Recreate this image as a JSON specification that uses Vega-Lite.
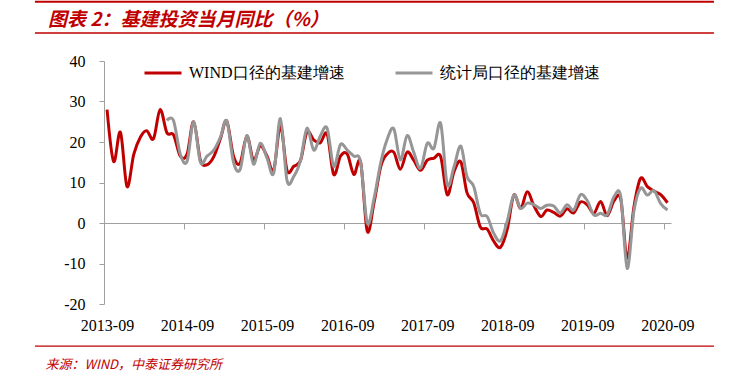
{
  "$schema": "https://vega.github.io/schema/vega-lite/v6.json",
  "width": 567,
  "height": 243,
  "autosize": {"type": "none"},
  "padding": {"left": 104, "top": 61, "right": 67, "bottom": 75},
  "background": "white",
  "config": {"view": {"stroke": null}},
  "title": {
    "text": "图表 2：基建投资当月同比（%）",
    "anchor": "start",
    "frame": "group",
    "dx": -56,
    "offset": -48,
    "baseline": "bottom",
    "font": "Noto Sans CJK SC",
    "fontSize": 19,
    "fontStyle": "italic",
    "fontWeight": "bold",
    "color": "#C00000"
  },
  "layer": [
    {
      "data": {"values": [{}]},
      "mark": {"type": "rule", "color": "#C00000", "strokeWidth": 2},
      "encoding": {
        "x": {"datum": {"year": 2012, "month": 10, "date": 21, "utc": true}, "type": "temporal"},
        "x2": {"datum": {"year": 2021, "month": 4, "date": 15, "utc": true}},
        "y": {"datum": 54.6, "type": "quantitative"}
      }
    },
    {
      "data": {"values": [{}]},
      "mark": {"type": "rule", "color": "#C00000", "strokeWidth": 1.5},
      "encoding": {
        "x": {"datum": {"year": 2012, "month": 10, "date": 21, "utc": true}, "type": "temporal"},
        "x2": {"datum": {"year": 2021, "month": 4, "date": 15, "utc": true}},
        "y": {"datum": 46.9, "type": "quantitative"}
      }
    },
    {
      "data": {"values": [{}]},
      "mark": {"type": "rule", "color": "#C00000", "strokeWidth": 1.2},
      "encoding": {
        "x": {"datum": {"year": 2012, "month": 10, "date": 21, "utc": true}, "type": "temporal"},
        "x2": {"datum": {"year": 2021, "month": 4, "date": 15, "utc": true}},
        "y": {"datum": -30.4, "type": "quantitative"}
      }
    },
    {
      "data": {
        "values": [
          {"d": "2013-09-15", "WIND口径的基建增速": 28, "统计局口径的基建增速": null},
          {"d": "2013-10-15", "WIND口径的基建增速": 15.2, "统计局口径的基建增速": null},
          {"d": "2013-11-15", "WIND口径的基建增速": 22.4, "统计局口径的基建增速": null},
          {"d": "2013-12-15", "WIND口径的基建增速": 9, "统计局口径的基建增速": null},
          {"d": "2014-01-15", "WIND口径的基建增速": 17, "统计局口径的基建增速": null},
          {"d": "2014-02-15", "WIND口径的基建增速": 21.3, "统计局口径的基建增速": null},
          {"d": "2014-03-15", "WIND口径的基建增速": 22.8, "统计局口径的基建增速": null},
          {"d": "2014-04-15", "WIND口径的基建增速": 20.8, "统计局口径的基建增速": null},
          {"d": "2014-05-15", "WIND口径的基建增速": 28, "统计局口径的基建增速": null},
          {"d": "2014-06-15", "WIND口径的基建增速": 22.3, "统计局口径的基建增速": 25.3},
          {"d": "2014-07-15", "WIND口径的基建增速": 21.8, "统计局口径的基建增速": 25.3},
          {"d": "2014-08-15", "WIND口径的基建增速": 16.5, "统计局口径的基建增速": 17},
          {"d": "2014-09-15", "WIND口径的基建增速": 17, "统计局口径的基建增速": 15.2},
          {"d": "2014-10-15", "WIND口径的基建增速": 25, "统计局口径的基建增速": 25},
          {"d": "2014-11-15", "WIND口径的基建增速": 15.5, "统计局口径的基建增速": 15},
          {"d": "2014-12-15", "WIND口径的基建增速": 14.4, "统计局口径的基建增速": 16.5},
          {"d": "2015-01-15", "WIND口径的基建增速": 16.4, "统计局口径的基建增速": 18},
          {"d": "2015-02-15", "WIND口径的基建增速": 21, "统计局口径的基建增速": 21.3},
          {"d": "2015-03-15", "WIND口径的基建增速": 25.2, "统计局口径的基建增速": 25.2},
          {"d": "2015-04-15", "WIND口径的基建增速": 16.5, "统计局口径的基建增速": 15},
          {"d": "2015-05-15", "WIND口径的基建增速": 14.8, "统计局口径的基建增速": 13.2},
          {"d": "2015-06-15", "WIND口径的基建增速": 21.5, "统计局口径的基建增速": 21.6},
          {"d": "2015-07-15", "WIND口径的基建增速": 15.5, "统计局口径的基建增速": 14.5},
          {"d": "2015-08-15", "WIND口径的基建增速": 19, "统计局口径的基建增速": 19.7},
          {"d": "2015-09-15", "WIND口径的基建增速": 16.5, "统计局口径的基建增速": 16},
          {"d": "2015-10-15", "WIND口径的基建增速": 13, "统计局口径的基建增速": 12.3},
          {"d": "2015-11-15", "WIND口径的基建增速": 24, "统计局口径的基建增速": 25.8},
          {"d": "2015-12-15", "WIND口径的基建增速": 13, "统计局口径的基建增速": 10.5},
          {"d": "2016-01-15", "WIND口径的基建增速": 14, "统计局口径的基建增速": 11.5},
          {"d": "2016-02-15", "WIND口径的基建增速": 15.5, "统计局口径的基建增速": 15.5},
          {"d": "2016-03-15", "WIND口径的基建增速": 22.5, "统计局口径的基建增速": 23.4},
          {"d": "2016-04-15", "WIND口径的基建增速": 20.5, "统计局口径的基建增速": 18},
          {"d": "2016-05-15", "WIND口径的基建增速": 19.8, "统计局口径的基建增速": 21.5},
          {"d": "2016-06-15", "WIND口径的基建增速": 22, "统计局口径的基建增速": 23.4},
          {"d": "2016-07-15", "WIND口径的基建增速": 12, "统计局口径的基建增速": 14},
          {"d": "2016-08-15", "WIND口径的基建增速": 16.5, "统计局口径的基建增速": 19.4},
          {"d": "2016-09-15", "WIND口径的基建增速": 17, "统计局口径的基建增速": 18},
          {"d": "2016-10-15", "WIND口径的基建增速": 12, "统计局口径的基建增速": 16.5},
          {"d": "2016-11-15", "WIND口径的基建增速": 15, "统计局口径的基建增速": 15},
          {"d": "2016-12-15", "WIND口径的基建增速": -2, "统计局口径的基建增速": 0},
          {"d": "2017-01-15", "WIND口径的基建增速": 5, "统计局口径的基建增速": 6},
          {"d": "2017-02-15", "WIND口径的基建增速": 14, "统计局口径的基建增速": 15},
          {"d": "2017-03-15", "WIND口径的基建增速": 17, "统计局口径的基建增速": 20.5},
          {"d": "2017-04-15", "WIND口径的基建增速": 17.5, "统计局口径的基建增速": 23.3},
          {"d": "2017-05-15", "WIND口径的基建增速": 13.3, "统计局口径的基建增速": 15.6},
          {"d": "2017-06-15", "WIND口径的基建增速": 17.5, "统计局口径的基建增速": 21.6},
          {"d": "2017-07-15", "WIND口径的基建增速": 15.5, "统计局口径的基建增速": 17.5},
          {"d": "2017-08-15", "WIND口径的基建增速": 13, "统计局口径的基建增速": 13.5},
          {"d": "2017-09-15", "WIND口径的基建增速": 15.5, "统计局口径的基建增速": 19.7},
          {"d": "2017-10-15", "WIND口径的基建增速": 16, "统计局口径的基建增速": 18.4},
          {"d": "2017-11-15", "WIND口径的基建增速": 16.4, "统计局口径的基建增速": 24.6},
          {"d": "2017-12-15", "WIND口径的基建增速": 7, "统计局口径的基建增速": 9.5},
          {"d": "2018-01-15", "WIND口径的基建增速": 12.7, "统计局口径的基建增速": 13.9},
          {"d": "2018-02-15", "WIND口径的基建增速": 15.1, "统计局口径的基建增速": 19},
          {"d": "2018-03-15", "WIND口径的基建增速": 7.5, "统计局口径的基建增速": 11.5},
          {"d": "2018-04-15", "WIND口径的基建增速": 5, "统计局口径的基建增速": 9},
          {"d": "2018-05-15", "WIND口径的基建增速": -1, "统计局口径的基建增速": 2.3},
          {"d": "2018-06-15", "WIND口径的基建增速": -1.5, "统计局口径的基建增速": 1.6},
          {"d": "2018-07-15", "WIND口径的基建增速": -4.5, "统计局口径的基建增速": -2.5},
          {"d": "2018-08-15", "WIND口径的基建增速": -6, "统计局口径的基建增速": -4.4},
          {"d": "2018-09-15", "WIND口径的基建增速": -1.5, "统计局口径的基建增速": 0.5},
          {"d": "2018-10-15", "WIND口径的基建增速": 6.9, "统计局口径的基建增速": 6.9},
          {"d": "2018-11-15", "WIND口径的基建增速": 3.6, "统计局口径的基建增速": 3.6},
          {"d": "2018-12-15", "WIND口径的基建增速": 7.7, "统计局口径的基建增速": 4.9},
          {"d": "2019-01-15", "WIND口径的基建增速": 4.2, "统计局口径的基建增速": 4.5},
          {"d": "2019-02-15", "WIND口径的基建增速": 1.6, "统计局口径的基建增速": 3.6},
          {"d": "2019-03-15", "WIND口径的基建增速": 3.2, "统计局口径的基建增速": 4.4},
          {"d": "2019-04-15", "WIND口径的基建增速": 2.6, "统计局口径的基建增速": 4.2},
          {"d": "2019-05-15", "WIND口径的基建增速": 1.7, "统计局口径的基建增速": 2.5},
          {"d": "2019-06-15", "WIND口径的基建增速": 3.5, "统计局口径的基建增速": 4.5},
          {"d": "2019-07-15", "WIND口径的基建增速": 2.5, "统计局口径的基建增速": 3.2},
          {"d": "2019-08-15", "WIND口径的基建增速": 5.2, "统计局口径的基建增速": 7},
          {"d": "2019-09-15", "WIND口径的基建增速": 4.5, "统计局口径的基建增速": 5.5},
          {"d": "2019-10-15", "WIND口径的基建增速": 2.4, "统计局口径的基建增速": 2},
          {"d": "2019-11-15", "WIND口径的基建增速": 5.3, "统计局口径的基建增速": 2.4},
          {"d": "2019-12-15", "WIND口径的基建增速": 1.8, "统计局口径的基建增速": 2},
          {"d": "2020-01-15", "WIND口径的基建增速": 5.5, "统计局口径的基建增速": 6.5},
          {"d": "2020-02-15", "WIND口径的基建增速": 5.8, "统计局口径的基建增速": 6.5},
          {"d": "2020-03-15", "WIND口径的基建增速": -8.7, "统计局口径的基建增速": -11.2},
          {"d": "2020-04-15", "WIND口径的基建增速": 4, "统计局口径的基建增速": 3},
          {"d": "2020-05-15", "WIND口径的基建增速": 11, "统计局口径的基建增速": 8.6},
          {"d": "2020-06-15", "WIND口径的基建增速": 9, "统计局口径的基建增速": 6.9},
          {"d": "2020-07-15", "WIND口径的基建增速": 7.9, "统计局口径的基建增速": 8},
          {"d": "2020-08-15", "WIND口径的基建增速": 7, "统计局口径的基建增速": 4.8},
          {"d": "2020-09-15", "WIND口径的基建增速": 5, "统计局口径的基建增速": 3.2}
        ]
      },
      "transform": [
        {"fold": ["WIND口径的基建增速", "统计局口径的基建增速"], "as": ["series", "v"]},
        {"filter": "datum.v != null"}
      ],
      "mark": {"type": "line", "strokeWidth": 3, "interpolate": "cardinal"},
      "encoding": {
        "x": {
          "field": "d",
          "type": "temporal",
          "scale": {
            "type": "utc",
            "domain": [
              {"year": 2013, "month": 9, "date": 1, "utc": true},
              {"year": 2020, "month": 10, "date": 1, "utc": true}
            ]
          },
          "axis": {
            "values": [
              {"year": 2013, "month": 9, "date": 1, "utc": true},
              {"year": 2014, "month": 9, "date": 1, "utc": true},
              {"year": 2015, "month": 9, "date": 1, "utc": true},
              {"year": 2016, "month": 9, "date": 1, "utc": true},
              {"year": 2017, "month": 9, "date": 1, "utc": true},
              {"year": 2018, "month": 9, "date": 1, "utc": true},
              {"year": 2019, "month": 9, "date": 1, "utc": true},
              {"year": 2020, "month": 9, "date": 1, "utc": true}
            ],
            "format": "%Y-%m",
            "offset": -81,
            "grid": false,
            "domainColor": "#A0A0A0",
            "tickColor": "#A0A0A0",
            "tickSize": 6,
            "labelPadding": 88,
            "labelOffset": 3,
            "labelFont": "Liberation Serif",
            "labelFontSize": 16,
            "labelColor": "black",
            "labelFlush": false,
            "labelOverlap": false,
            "title": "来源：WIND，中泰证券研究所",
            "titleX": -59,
            "titleY": 145,
            "titleAlign": "left",
            "titleBaseline": "alphabetic",
            "titleAngle": 0,
            "titleFont": "Noto Sans CJK SC",
            "titleFontSize": 13,
            "titleFontWeight": "normal",
            "titleFontStyle": "italic",
            "titleColor": "#C00000"
          }
        },
        "y": {
          "field": "v",
          "type": "quantitative",
          "scale": {"domain": [-20, 40], "nice": false, "zero": false},
          "axis": {
            "values": [-20, -10, 0, 10, 20, 30, 40],
            "labelExpr": "'' + datum.value",
            "grid": false,
            "domainColor": "#A0A0A0",
            "tickColor": "#A0A0A0",
            "tickSize": 5,
            "labelPadding": 14,
            "labelFont": "Liberation Serif",
            "labelFontSize": 16,
            "labelColor": "black",
            "title": null
          }
        },
        "color": {
          "field": "series",
          "type": "nominal",
          "scale": {
            "domain": ["WIND口径的基建增速", "统计局口径的基建增速"],
            "range": ["#C00000", "#969696"]
          },
          "legend": {
            "title": null,
            "orient": "none",
            "legendX": 39,
            "legendY": -8,
            "direction": "horizontal",
            "symbolType": "stroke",
            "symbolSize": 1369,
            "symbolStrokeWidth": 3,
            "labelFont": "Liberation Serif",
            "labelFontSize": 16,
            "labelColor": "black",
            "labelOffset": 6,
            "labelLimit": 400,
            "columnPadding": 44
          }
        }
      }
    }
  ]
}
